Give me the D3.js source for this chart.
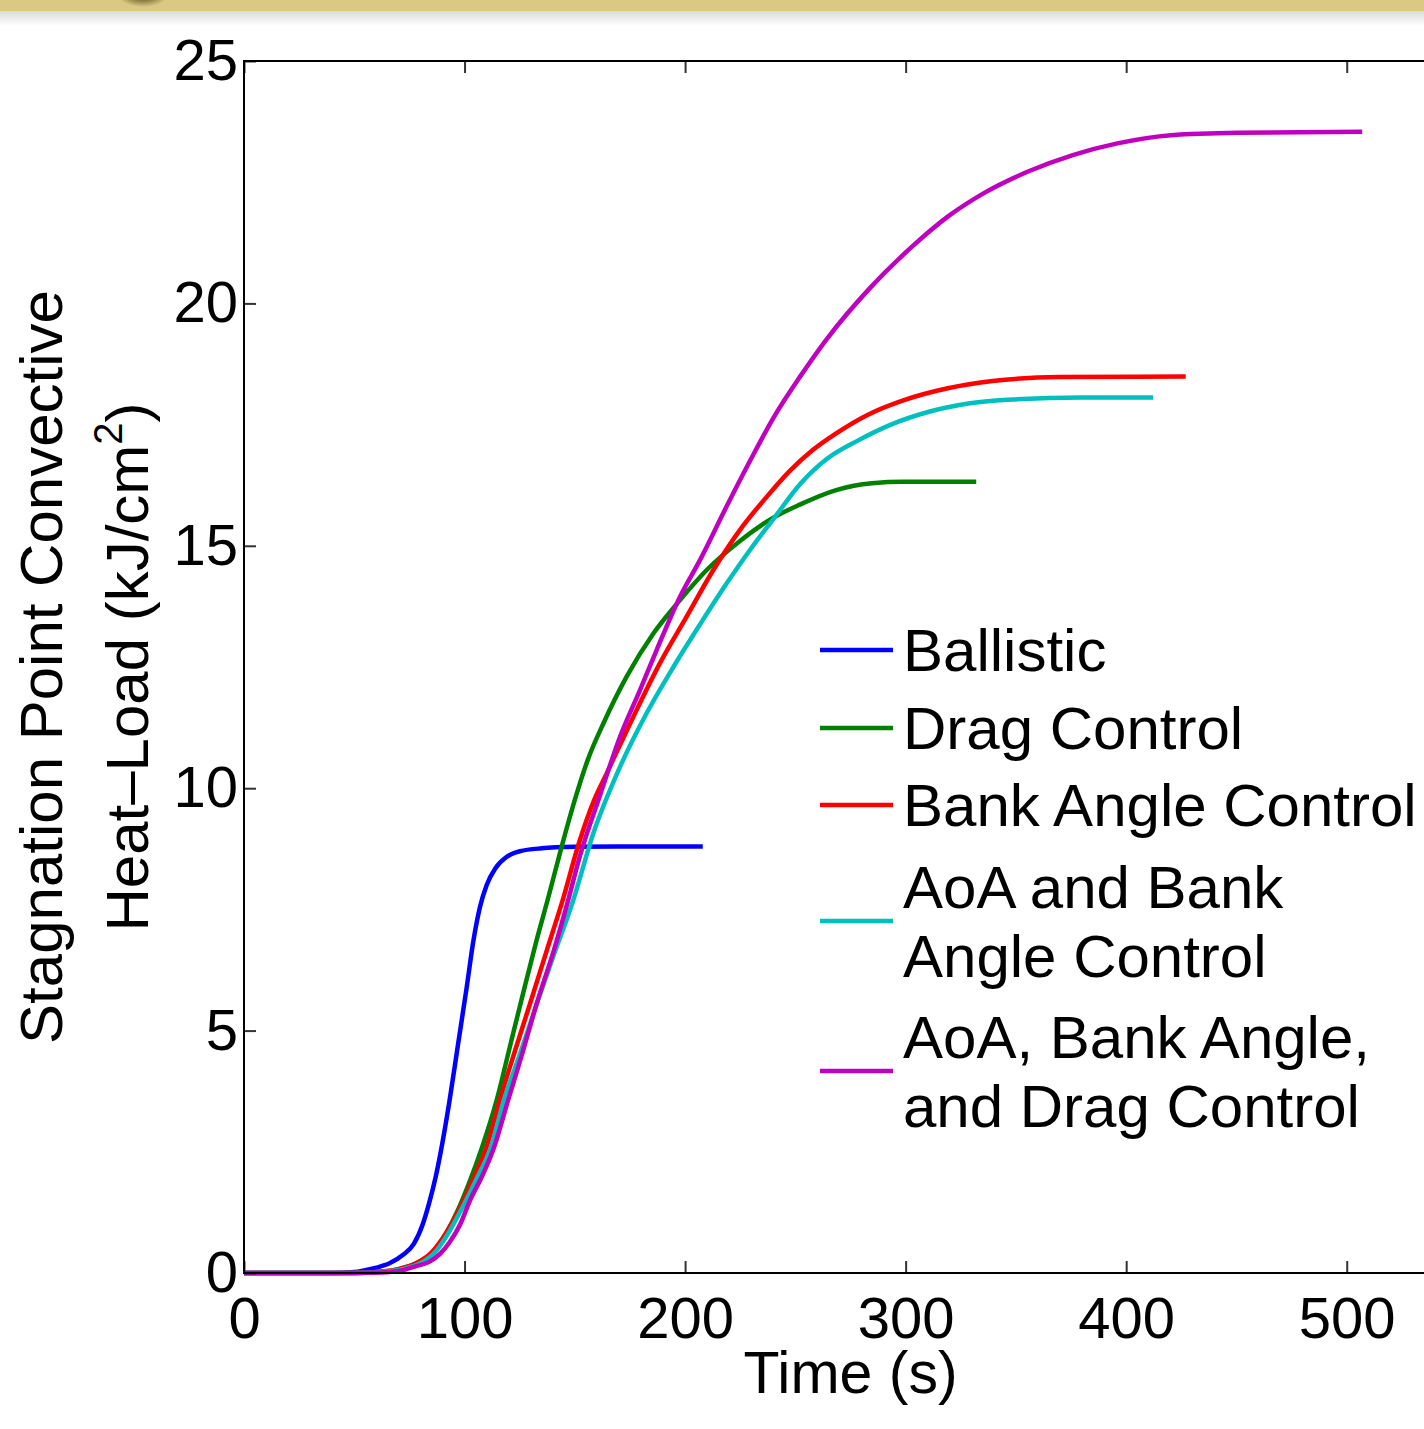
<!DOCTYPE html>
<html>
<head>
<meta charset="utf-8">
<script src="https://cdn.jsdelivr.net/npm/d3@7"></script>
<style>
  html, body { margin: 0; padding: 0; background: #fff; overflow: hidden; }
  svg { display: block; font-family: "Liberation Sans", Arial, Helvetica, sans-serif; }
</style>
</head>
<body>
<div id="root"></div>
<script>
// series names and colours (legend order = draw order)
const seriesNames = ["Ballistic", "Drag Control", "Bank Angle Control", "AoA and Bank Angle Control", "AoA, Bank Angle, and Drag Control"];
const legendLines = [["Ballistic"], ["Drag Control"], ["Bank Angle Control"], ["AoA and Bank", "Angle Control"], ["AoA, Bank Angle,", "and Drag Control"]];
const seriesColors = ["#0000ff", "#008000", "#ff0000", "#00bfbf", "#bf00bf"];

// time (s) and heat-load (kJ/cm^2)
const ballisticT = [0, 40, 50, 55, 60, 66, 72, 77, 81, 84, 87, 89, 93, 97, 101, 104, 107, 110, 114, 119, 125, 135, 150, 170, 208];
const ballisticQ = [0, 0, 0.02, 0.06, 0.11, 0.2, 0.37, 0.6, 1.0, 1.45, 2.0, 2.45, 3.5, 4.7, 5.9, 6.85, 7.55, 8.0, 8.35, 8.58, 8.7, 8.76, 8.79, 8.8, 8.8];

const dragT = [0, 50, 60, 70, 78, 85, 92, 97, 102, 108, 114.6, 121, 127, 132.3, 138, 144, 150, 156, 163, 173.5, 185.6, 197.7, 209.8, 224.9, 240, 252, 268.5, 284.7, 299, 332];
const dragQ = [0, 0, 0.02, 0.08, 0.2, 0.4, 0.85, 1.3, 1.85, 2.6, 3.57, 4.75, 5.85, 6.8, 7.75, 8.79, 9.76, 10.6, 11.34, 12.3, 13.19, 13.88, 14.5, 15.1, 15.58, 15.85, 16.15, 16.29, 16.32, 16.32];

const bankT = [0, 50, 60, 70, 78, 85, 92, 98, 104, 110, 116, 123, 130, 137.4, 144.5, 151.8, 158.8, 164.4, 176.5, 188.6, 200.7, 212.8, 224.9, 237, 247.6, 258, 268.5, 282.7, 298.9, 319.1, 339.4, 369.8, 427];
const bankQ = [0, 0, 0.02, 0.08, 0.2, 0.42, 0.85, 1.35, 1.95, 2.6, 3.57, 4.6, 5.6, 6.67, 7.69, 8.86, 9.76, 10.3, 11.47, 12.58, 13.54, 14.5, 15.33, 16.01, 16.55, 16.98, 17.32, 17.7, 18.0, 18.25, 18.4, 18.48, 18.49];

const aoaBankT = [0, 50, 62, 72, 80, 87, 93, 99, 105, 112, 117.9, 125, 132, 140, 149.3, 158.4, 170.5, 182.6, 194.7, 206.8, 218.8, 230, 240, 252.3, 264.5, 278.7, 292.8, 311, 329.2, 349.5, 379.8, 412.2];
const aoaBankQ = [0, 0, 0.02, 0.08, 0.2, 0.45, 0.85, 1.35, 1.9, 2.6, 3.57, 4.5, 5.45, 6.5, 7.69, 9.07, 10.44, 11.55, 12.5, 13.38, 14.22, 14.95, 15.55, 16.28, 16.8, 17.18, 17.49, 17.77, 17.94, 18.02, 18.06, 18.06];

const allCtrlT = [0, 50, 62, 72, 78, 84, 89, 93, 98, 102.5, 108, 113, 119.8, 126, 133, 140.6, 147, 152.3, 161.4, 170.5, 179.6, 187.1, 197.7, 206.8, 218.8, 230, 240.2, 252.3, 264.5, 283.7, 302.9, 319.1, 335.3, 355.5, 375.8, 396, 420.3, 450.7, 507];
const allCtrlQ = [0, 0, 0.01, 0.06, 0.14, 0.23, 0.4, 0.62, 1.0, 1.5, 2.0, 2.54, 3.57, 4.5, 5.6, 6.67, 7.69, 8.6, 9.85, 11.06, 12.03, 12.85, 13.95, 14.71, 15.81, 16.8, 17.65, 18.5, 19.28, 20.31, 21.17, 21.79, 22.27, 22.72, 23.06, 23.3, 23.47, 23.52, 23.54];

const seriesT = [ballisticT, dragT, bankT, aoaBankT, allCtrlT];
const seriesQ = [ballisticQ, dragQ, bankQ, aoaBankQ, allCtrlQ];

// ticks
const xTicks = [0, 100, 200, 300, 400, 500];
const yTicks = [0, 5, 10, 15, 20, 25];

const W = 1424, H = 1429;
const plotLeft = 244, plotTop = 61, plotBottom = 1273, plotRight = 1457;

const x = d3.scaleLinear().domain([0, 550]).range([plotLeft, plotRight]);
const y = d3.scaleLinear().domain([0, 25]).range([plotBottom, plotTop]);

const svg = d3.select("#root").append("svg")
    .attr("width", W)
    .attr("height", H);

// top band of the slide
const defs = svg.append("defs");
const shade = defs.append("linearGradient").attr("id", "shade").attr("x1", 0).attr("x2", 0).attr("y1", 0).attr("y2", 1);
shade.append("stop").attr("offset", 0).attr("stop-color", "#d8d8d8");
shade.append("stop").attr("offset", 1).attr("stop-color", "#ffffff");
const blob = defs.append("radialGradient").attr("id", "blob");
blob.append("stop").attr("offset", 0.4).attr("stop-color", "#7d6d38");
blob.append("stop").attr("offset", 1).attr("stop-color", "#dac883");

svg.append("rect").attr("x", 0).attr("y", 10).attr("width", W).attr("height", 16).attr("fill", "url(#shade)");
svg.append("rect").attr("x", 0).attr("y", 0).attr("width", W).attr("height", 11).attr("fill", "#dac883");
svg.append("ellipse").attr("cx", 143).attr("cy", -6).attr("rx", 26).attr("ry", 13).attr("fill", "url(#blob)");

// curves
const line = d3.line()
    .x(d => x(d[0]))
    .y(d => y(d[1]))
    .curve(d3.curveMonotoneX);

const curves = svg.append("g").attr("class", "curves");
seriesT.forEach((ts, i) => {
    curves.append("path")
        .datum(ts.map((t, j) => [t, seriesQ[i][j]]))
        .attr("fill", "none")
        .attr("stroke", seriesColors[i])
        .attr("stroke-width", 4.5)
        .attr("stroke-linejoin", "round")
        .attr("d", line);
});

// axes (ticks inside the box, like matlab)
const axesGroup = svg.append("g").attr("class", "axes");

axesGroup.append("g")
    .attr("transform", `translate(0,${plotBottom})`)
    .call(d3.axisBottom(x).tickValues(xTicks).tickSize(-12).tickPadding(24))
    .call(g => g.select(".domain").remove());

axesGroup.append("g")
    .attr("transform", `translate(0,${plotTop})`)
    .call(d3.axisTop(x).tickValues(xTicks).tickSize(-12).tickFormat(""))
    .call(g => g.select(".domain").remove());

axesGroup.append("g")
    .attr("transform", `translate(${plotLeft},0)`)
    .call(d3.axisLeft(y).tickValues(yTicks).tickSize(-12).tickPadding(6))
    .call(g => g.select(".domain").remove());

axesGroup.selectAll(".tick line").attr("stroke", "#333").attr("stroke-width", 2);
axesGroup.selectAll(".tick text")
    .attr("fill", "#000")
    .style("font-size", "58px")
    .style("font-family", "'Liberation Sans', Arial, Helvetica, sans-serif");

// box
axesGroup.append("rect")
    .attr("x", plotLeft).attr("y", plotTop)
    .attr("width", plotRight - plotLeft).attr("height", plotBottom - plotTop)
    .attr("fill", "none")
    .attr("stroke", "#000")
    .attr("stroke-width", 2);

// axis labels
svg.append("text")
    .attr("x", (plotLeft + plotRight) / 2)
    .attr("y", 1393)
    .attr("text-anchor", "middle")
    .style("font-size", "59px")
    .text("Time (s)");

const yLab = svg.append("g")
    .attr("transform", `translate(0,${(plotTop + plotBottom) / 2}) rotate(-90)`);
yLab.append("text")
    .attr("x", 0).attr("y", 62)
    .attr("text-anchor", "middle")
    .style("font-size", "60px")
    .text("Stagnation Point Convective");
const yLab2 = yLab.append("text")
    .attr("x", 0).attr("y", 148)
    .attr("text-anchor", "middle")
    .style("font-size", "60px");
yLab2.append("tspan").text("Heat\u2013Load (kJ/cm");
yLab2.append("tspan").attr("dy", -26).style("font-size", "40px").text("2");
yLab2.append("tspan").attr("dy", 26).text(")");

// legend
const legendY = [650, 728, 805, 921, 1071];
const legend = svg.append("g").attr("class", "legend");
legendLines.forEach((lines, i) => {
    legend.append("line")
        .attr("x1", 820).attr("x2", 893)
        .attr("y1", legendY[i]).attr("y2", legendY[i])
        .attr("stroke", seriesColors[i])
        .attr("stroke-width", 4.5);
    const first = legendY[i] + 21 - (lines.length - 1) * 34.5;
    lines.forEach((txt, k) => {
        legend.append("text")
            .attr("x", 903)
            .attr("y", first + k * 69)
            .style("font-size", "60px")
            .text(txt);
    });
});
</script>
</body>
</html>
